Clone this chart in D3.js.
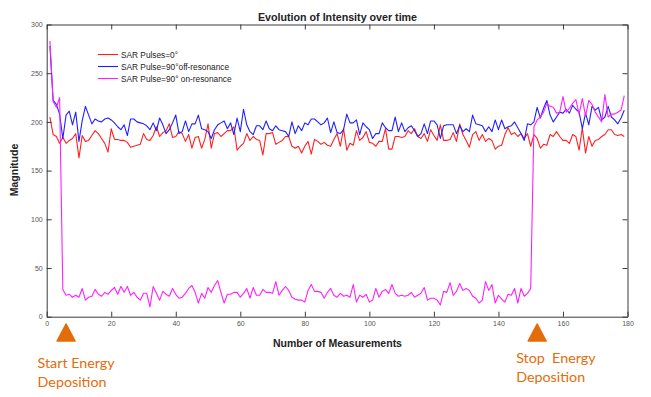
<!DOCTYPE html>
<html>
<head>
<meta charset="utf-8">
<script src="https://cdn.jsdelivr.net/npm/d3@7"></script>
<style>
  body { margin: 0; background: #fff; }
  svg { display: block; }
</style>
</head>
<body>
<div id="viz"></div>
<script>
var w = 651, h = 397;

// series, index = measurement number (1..179)
var pulse0 = [205,187,185,178,184,178,181,183,188,163,186,180,181,186,191,188,183,178,169,193,
  182,182,181,181,179,174,175,176,177,188,182,181,186,195,185,189,191,198,184,185,
  190,188,180,187,173,184,185,173,182,198,173,188,189,185,188,191,191,195,171,175,
  178,188,181,185,182,181,166,188,188,189,177,179,181,185,185,175,173,175,168,175,
  180,167,182,180,177,179,176,175,182,188,175,193,171,178,176,191,181,184,190,179,
  178,175,180,180,193,172,172,185,185,184,185,191,188,193,185,183,188,180,192,186,
  181,197,181,181,182,189,180,198,187,181,174,187,190,181,187,180,183,181,172,175,
  176,187,194,187,189,185,188,183,188,175,187,183,173,177,176,187,185,190,185,181,
  181,178,187,185,171,194,168,185,175,181,182,185,187,192,192,187,186,187,185]

var pulse90off = [278,222,218,208,183,207,211,197,210,180,201,216,207,198,203,201,200,203,204,202,
  199,195,192,197,186,203,203,200,199,198,196,192,199,191,204,197,188,192,199,207,
  188,190,201,190,198,198,207,193,192,190,183,192,197,199,201,193,199,187,204,190,
  213,197,190,187,196,196,192,201,193,191,196,192,191,190,185,200,188,196,191,199,
  197,203,203,200,197,199,204,189,200,189,188,192,208,199,199,202,187,199,195,192,
  183,188,188,199,194,191,191,205,190,199,190,194,196,191,185,188,198,188,201,201,
  197,183,196,197,197,197,188,196,190,193,190,207,198,197,196,190,195,190,202,192,
  202,193,195,196,200,194,188,181,198,197,200,215,204,214,222,207,200,205,210,209,
  213,209,217,213,210,193,209,197,216,212,215,202,205,216,205,202,198,204,212]

var pulse90on = [283,221,215,225,28,22,23,20,22,20,29,17,20,21,28,23,21,25,23,27,
  30,23,31,25,31,22,25,20,17,24,24,10,31,24,17,26,23,21,29,23,
  19,20,24,29,32,25,14,24,19,30,25,32,37,25,14,23,23,25,25,20,
  24,29,19,30,22,22,28,25,25,24,36,22,27,31,27,20,18,17,17,15,
  27,33,26,26,25,19,25,29,22,20,24,21,22,20,33,15,22,20,23,15,
  17,29,20,26,28,24,33,24,21,22,21,22,25,20,22,24,30,17,19,19,
  17,12,26,25,35,22,26,34,27,29,27,21,19,14,17,36,27,33,14,22,
  18,15,23,22,29,14,29,21,24,29,195,202,205,210,219,216,215,209,210,226,
  210,214,219,223,208,224,206,222,218,210,205,200,228,205,208,208,210,212,227]

var seriesNames = ['SAR Pulses=0\u00b0', 'SAR Pulse=90\u00b0off-resonance', 'SAR Pulse=90\u00b0 on-resonance']
var seriesColors = ['#ff2020', '#2020ff', '#ff20ff']
var xTicks = [0,20,40,60,80,100,120,140,160,180]
var yTicks = [0,50,100,150,200,250,300]
var markers = [
  { x: 6, lines: ['Start Energy', 'Deposition'] },
  { x: 152, lines: ['Stop  Energy', 'Deposition'] }
]

var svg = d3.select('#viz').append('svg')
  .attr('width', w)
  .attr('height', h)

var x = d3.scaleLinear().domain([0, 180]).range([46.7, 627.5])
var y = d3.scaleLinear().domain([0, 300]).range([316.7, 24.5])

// lines
var line = d3.line()
  .x((d, i) => x(i + 1))
  .y(d => y(d))

var all = [pulse0, pulse90off, pulse90on]
svg.append('g')
  .selectAll('path')
  .data(all)
  .enter()
  .append('path')
  .attr('d', d => line(d))
  .attr('fill', 'none')
  .attr('stroke', (d, i) => seriesColors[i])
  .attr('stroke-width', 1.1)
  .attr('stroke-linejoin', 'round')

// axes, matlab style box with inner ticks
var axCol = '#3a3a3a'
function styleAxis(g) {
  g.selectAll('.domain').attr('stroke', axCol)
  g.selectAll('.tick line').attr('stroke', axCol)
  g.selectAll('.tick text')
    .attr('fill', '#555')
    .style('font-family', 'Liberation Sans, Arial, sans-serif')
    .style('font-size', '7px')
}

svg.append('g')
  .attr('transform', 'translate(0,' + y(0) + ')')
  .call(d3.axisBottom(x).tickValues(xTicks).tickSize(-5).tickSizeOuter(0).tickPadding(4))
  .call(styleAxis)

svg.append('g')
  .attr('transform', 'translate(0,' + y(300) + ')')
  .call(d3.axisTop(x).tickValues(xTicks).tickSize(-5).tickSizeOuter(0).tickFormat(''))
  .call(styleAxis)

svg.append('g')
  .attr('transform', 'translate(' + x(0) + ',0)')
  .call(d3.axisLeft(y).tickValues(yTicks).tickSize(-5).tickSizeOuter(0).tickPadding(4))
  .call(styleAxis)

svg.append('g')
  .attr('transform', 'translate(' + x(180) + ',0)')
  .call(d3.axisRight(y).tickValues(yTicks).tickSize(-5).tickSizeOuter(0).tickFormat(''))
  .call(styleAxis)

// titles
svg.append('text')
  .attr('x', 337.5).attr('y', 20.5)
  .attr('text-anchor', 'middle')
  .style('font-family', 'Liberation Sans, Arial, sans-serif')
  .style('font-size', '10.7px')
  .style('font-weight', 'bold')
  .attr('fill', '#222')
  .text('Evolution of Intensity over time')

svg.append('text')
  .attr('x', 337.5).attr('y', 347)
  .attr('text-anchor', 'middle')
  .style('font-family', 'Liberation Sans, Arial, sans-serif')
  .style('font-size', '10.5px')
  .style('font-weight', 'bold')
  .attr('fill', '#222')
  .text('Number of Measurements')

svg.append('text')
  .attr('transform', 'translate(18,170) rotate(-90)')
  .attr('text-anchor', 'middle')
  .style('font-family', 'Liberation Sans, Arial, sans-serif')
  .style('font-size', '10.5px')
  .style('font-weight', 'bold')
  .attr('fill', '#222')
  .text('Magnitude')

// legend
var leg = svg.append('g').attr('transform', 'translate(98,54.5)')
var legRow = leg.selectAll('g')
  .data(seriesNames)
  .enter()
  .append('g')
  .attr('transform', (d, i) => 'translate(0,' + i * 12 + ')')
legRow.append('line')
  .attr('x1', 0).attr('x2', 20)
  .attr('stroke', (d, i) => seriesColors[i])
  .attr('stroke-width', 1.1)
legRow.append('text')
  .attr('x', 23).attr('y', 3)
  .style('font-family', 'Liberation Sans, Arial, sans-serif')
  .style('font-size', '8.3px')
  .attr('fill', '#222')
  .text(d => d)

// energy deposition markers
var orange = '#e46c0a'
var mk = svg.append('g').selectAll('g')
  .data(markers)
  .enter()
  .append('g')
  .attr('transform', d => 'translate(' + x(d.x) + ',0)')
mk.append('path')
  .attr('d', 'M0,324 L9,341 L-9,341 Z')
  .attr('fill', orange)
  .attr('stroke', orange)
  .attr('stroke-linejoin', 'round')
  .attr('stroke-width', 1.5)
mk.each(function(d, i) {
  var t = d3.select(this).append('text')
    .attr('fill', orange)
    .style('font-family', 'Lato, sans-serif')
    .style('font-size', '14.3px')
    .style('white-space', 'pre')
  d.lines.forEach(function(s, j) {
    t.append('tspan')
      .attr('x', i == 0 ? -28.5 : -21)
      .attr('y', (i == 0 ? 368 : 363) + j * 19)
      .text(s)
  })
})
</script>
</body>
</html>
